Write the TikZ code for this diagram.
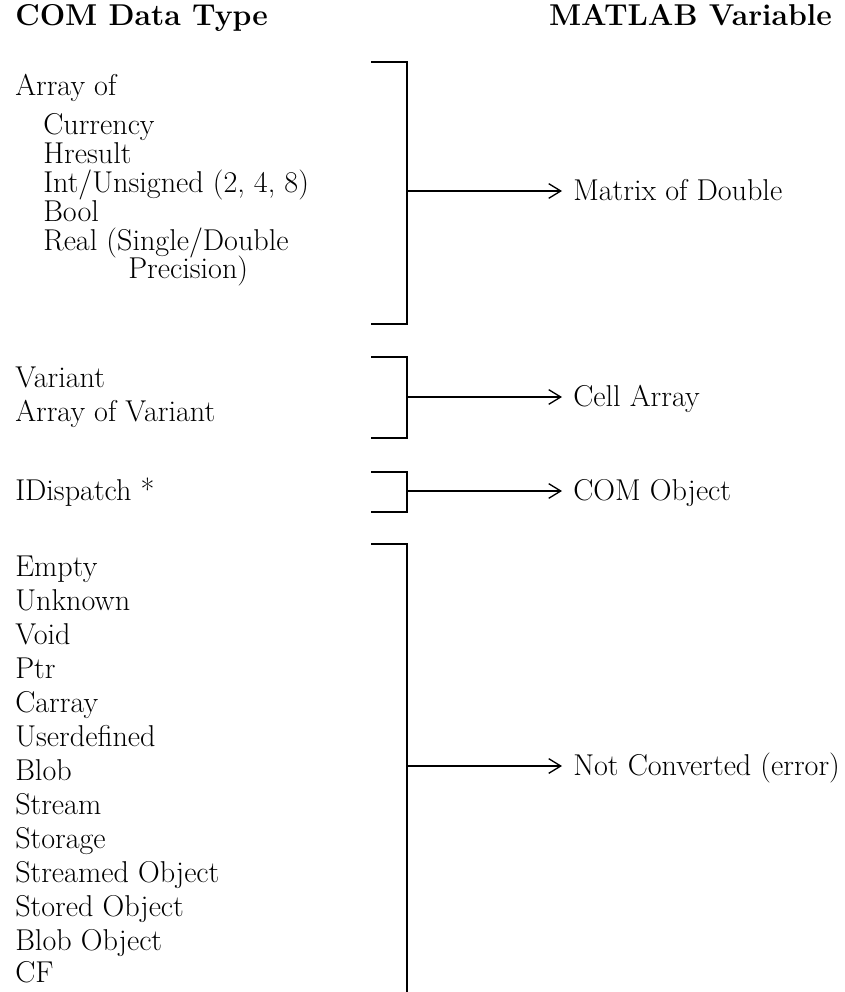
\documentclass[tikz,border=0pt]{standalone}
\usetikzlibrary{arrows.meta}
\newcommand{\bodysize}{\fontsize{22.6}{24}\selectfont}
\begin{document}
\begin{tikzpicture}[x=0.75pt,y=-0.75pt,
  txt/.style={anchor=base west, inner sep=0pt, font=\bodysize},
  headtxt/.style={inner sep=0pt, font=\bodysize\bfseries},
  restxt/.style={anchor=base west, inner xsep=8.25pt, inner ysep=0pt, font=\bodysize},
  brk/.style={line width=1.5pt},
  arr/.style={line width=1.5pt, -{Straight Barb[length=9pt,width=11pt,line width=1pt]}}]
\useasboundingbox (0,0) rectangle (844,992);
% headers
\node[headtxt, anchor=base west] (h1) at (15,25) {COM Data Type};
\node[headtxt, anchor=base east] (h2) at (832,25) {MATLAB Variable};
% group 1
\node[txt] (a0) at (15,95) {Array of};
\node[txt] (a1) at (43,134) {Currency};
\node[txt] (a2) at (43,163) {Hresult};
\node[txt] (a3) at (43,192) {Int/Unsigned (2, 4, 8)};
\node[txt] (a4) at (43,221) {Bool};
\node[txt] (a5) at (43,250) {Real (Single/Double};
\node[txt] (a6) at (128,278) {Precision)};
% group 2
\node[txt] (v1) at (15,387) {Variant};
\node[txt] (v2) at (15,421) {Array of Variant};
% group 3
\node[txt] (d1) at (15,500) {IDispatch *};
% group 4
\node[txt] (e1) at (15,576) {Empty};
\node[txt] (e2) at (15,610) {Unknown};
\node[txt] (e3) at (15,644) {Void};
\node[txt] (e4) at (15,678) {Ptr};
\node[txt] (e5) at (15,712) {Carray};
\node[txt] (e6) at (15,746) {Userdefined};
\node[txt] (e7) at (15,780) {Blob};
\node[txt] (e8) at (15,814) {Stream};
\node[txt] (e9) at (15,848) {Storage};
\node[txt] (e10) at (15,882) {Streamed Object};
\node[txt] (e11) at (15,916) {Stored Object};
\node[txt] (e12) at (15,950) {Blob Object};
\node[txt] (e13) at (15,982) {CF};
% results
\node[restxt] (r1) at (562,200) {Matrix of Double};
\node[restxt] (r2) at (562,406) {Cell Array};
\node[restxt] (r3) at (562,500) {COM Object};
\node[restxt] (r4) at (562,775) {Not Converted (error)};
% brackets
\draw[brk] (371,62) -- (407,62) -- (407,324) -- (371,324);
\draw[brk] (371,357) -- (407,357) -- (407,438) -- (371,438);
\draw[brk] (371,472) -- (407,472) -- (407,512) -- (371,512);
\draw[brk] (371,544) -- (407,544) -- (407,992);
\coordinate (b1) at (407,191);
\coordinate (b2) at (407,397);
\coordinate (b3) at (407,491);
\coordinate (b4) at (407,766);
% connectors
\draw[arr] (b1) -- (b1 -| r1.west);
\draw[arr] (b2) -- (b2 -| r2.west);
\draw[arr] (b3) -- (b3 -| r3.west);
\draw[arr] (b4) -- (b4 -| r4.west);
\end{tikzpicture}
\end{document}
